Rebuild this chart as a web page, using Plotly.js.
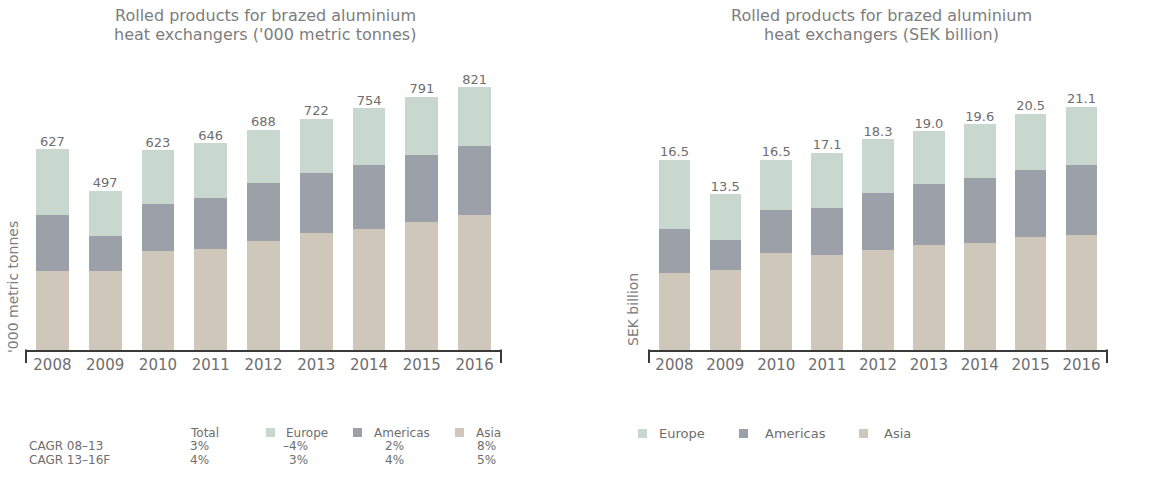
<!DOCTYPE html>
<html><head><meta charset="utf-8">
<script src="https://cdn.plot.ly/plotly-3.0.1.min.js"></script>
<style>html,body{margin:0;padding:0;background:#fff}#chart{width:1149px;height:482px}</style>
</head><body><div id="chart"></div>
<script>
const years = ['2008','2009','2010','2011','2012','2013','2014','2015','2016'];
const tonnesAsia = [247,248,310,315,339,365,378,400,421];
const tonnesAmericas = [173,107,145,158,181,187,199,210,215];
const tonnesEurope = [207,142,168,173,168,170,177,181,185];
const tonnesTotal = [627,497,623,646,688,722,754,791,821];
const sekAsia = [6.7,6.9,8.4,8.2,8.7,9.1,9.3,9.8,10.0];
const sekAmericas = [3.8,2.6,3.7,4.1,4.9,5.3,5.6,5.8,6.0];
const sekEurope = [6.0,4.0,4.4,4.8,4.7,4.6,4.7,4.9,5.1];
const sekTotal = [16.5,13.5,16.5,17.1,18.3,19.0,19.6,20.5,21.1];
const regions = ['Europe','Americas','Asia'];
const regionColors = ['#c8d8cf','#9ca0a8','#cfc7ba'];
const cagrRows = ['CAGR 08–13','CAGR 13–16F'];
const cagrTotal = ['3%','4%'];
const cagrEurope = ['–4%','3%'];
const cagrAmericas = ['2%','4%'];
const cagrAsia = ['8%','5%'];

const W = 1149, H = 482;
const px = x => x / W;
const py = y => 1 - y / H;
const FONT = 'DejaVu Sans';
const TXT = '#6e6e6e';

function bar(y, name, color, xa, ya) {
  return {type:'bar', x: years, y: y, name: name, marker:{color: color, line:{width:0}},
    xaxis: xa, yaxis: ya, showlegend:false, hoverinfo:'skip'};
}
const traces = [
  bar(tonnesAsia, 'Asia', regionColors[2], 'x', 'y'),
  bar(tonnesAmericas, 'Americas', regionColors[1], 'x', 'y'),
  bar(tonnesEurope, 'Europe', regionColors[0], 'x', 'y'),
  {type:'scatter', mode:'text', x: years, y: tonnesTotal, text: tonnesTotal.map(v => String(v)),
   textposition:'top center', textfont:{family:FONT, size:13, color:TXT}, xaxis:'x', yaxis:'y',
   showlegend:false, hoverinfo:'skip', cliponaxis:false},
  bar(sekAsia, 'Asia', regionColors[2], 'x2', 'y2'),
  bar(sekAmericas, 'Americas', regionColors[1], 'x2', 'y2'),
  bar(sekEurope, 'Europe', regionColors[0], 'x2', 'y2'),
  {type:'scatter', mode:'text', x: years, y: sekTotal, text: sekTotal.map(v => v.toFixed(1)),
   textposition:'top center', textfont:{family:FONT, size:13, color:TXT}, xaxis:'x2', yaxis:'y2',
   showlegend:false, hoverinfo:'skip', cliponaxis:false}
];

function xax(d) {
  return {domain: d, type:'category', range:[-0.5, 8.5], showline:true, linecolor:'#3a3a3a', linewidth:2,
    ticks:'', showgrid:false, zeroline:false, tickfont:{family:FONT, size:15, color:TXT}, fixedrange:true};
}
function yax(r, anchor) {
  return {domain:[py(350), py(60)], range:[0, r], visible:false, fixedrange:true, anchor: anchor};
}

const shapes = [];
function bracket(x) {
  shapes.push({type:'line', xref:'paper', yref:'paper', x0:px(x), x1:px(x), y0:py(349.5), y1:py(363),
    line:{color:'#3a3a3a', width:2}});
}
bracket(26); bracket(501); bracket(649); bracket(1107);

const ann = [];
function txt(x, y, t, opts) {
  ann.push(Object.assign({xref:'paper', yref:'paper', x:px(x), y:py(y), text:t, showarrow:false,
    xanchor:'left', yanchor:'middle', font:{family:FONT, size:12, color:TXT}}, opts || {}));
}
// titles
const titleFont = {family:FONT, size:16, color:'#7d7d7d'};
txt(265, 15, 'Rolled products for brazed aluminium', {xanchor:'center', font:titleFont});
txt(265, 35, "heat exchangers ('000 metric tonnes)", {xanchor:'center', font:titleFont});
txt(881, 15, 'Rolled products for brazed aluminium', {xanchor:'center', font:titleFont});
txt(881, 35, 'heat exchangers (SEK billion)', {xanchor:'center', font:titleFont});
// axis titles
txt(13, 287, "'000 metric tonnes", {xanchor:'center', textangle:-90, font:{family:FONT, size:14, color:'#7d7d7d'}});
txt(633, 310, 'SEK billion', {xanchor:'center', textangle:-90, font:{family:FONT, size:14, color:'#7d7d7d'}});

// left legend table
const legL = [{sx:266, tx:284}, {sx:353, tx:372}, {sx:455, tx:474}];
txt(188, 433, 'Total');
regions.forEach((r, i) => {
  shapes.push({type:'rect', xref:'paper', yref:'paper', x0:px(legL[i].sx), x1:px(legL[i].sx+9),
    y0:py(437), y1:py(428), fillcolor:regionColors[i], line:{width:0}});
  txt(legL[i].tx, 433, r);
});
const small = {family:FONT, size:12, color:TXT};
cagrRows.forEach((r, j) => {
  const y = 446 + j * 14;
  txt(27, y, r, {font:small});
  txt(188, y, cagrTotal[j], {font:small});
  txt(310, y, cagrEurope[j], {xanchor:'right', font:small});
  txt(383, y, cagrAmericas[j], {font:small});
  txt(498, y, cagrAsia[j], {xanchor:'right', font:small});
});

// right legend
const legR = [{sx:638, tx:657}, {sx:739, tx:763}, {sx:859, tx:882}];
regions.forEach((r, i) => {
  shapes.push({type:'rect', xref:'paper', yref:'paper', x0:px(legR[i].sx), x1:px(legR[i].sx+9),
    y0:py(438), y1:py(429), fillcolor:regionColors[i], line:{width:0}});
  txt(legR[i].tx, 433, r, {font:{family:FONT, size:13, color:TXT}});
});

const layout = {
  width: W, height: H, margin:{l:0, r:0, t:0, b:0},
  paper_bgcolor:'#ffffff', plot_bgcolor:'#ffffff',
  barmode:'stack', bargap:0.38, showlegend:false,
  font:{family:FONT, color:TXT},
  xaxis: Object.assign(xax([px(26), px(501)]), {anchor:'y'}),
  yaxis: yax(905, 'x'),
  xaxis2: Object.assign(xax([px(649), px(1107)]), {anchor:'y2'}),
  yaxis2: yax(25.14, 'x2'),
  shapes: shapes, annotations: ann
};
Plotly.newPlot('chart', traces, layout, {displayModeBar:false, staticPlot:true});
</script></body></html>
